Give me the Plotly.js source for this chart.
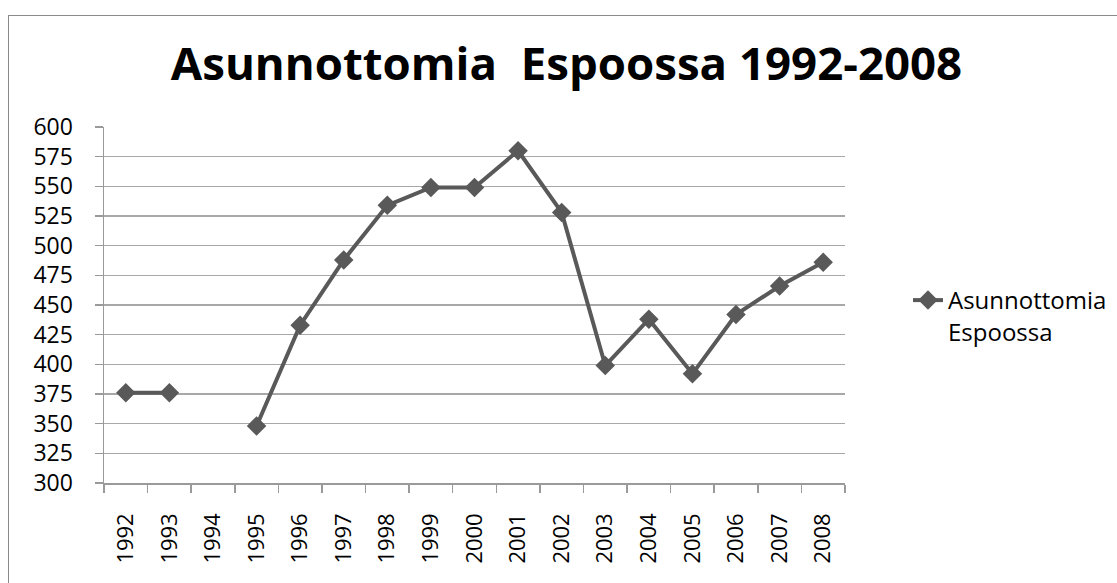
<!DOCTYPE html>
<html>
<head>
<meta charset="utf-8">
<script src="https://cdn.plot.ly/plotly-3.0.1.min.js"></script>
<style>
  html, body { margin: 0; padding: 0; background: #fff; overflow: hidden; }
  #wrap { position: relative; width: 1117px; height: 583px; }
  #frame { position: absolute; left: 8px; top: 15px; width: 1200px; height: 700px; border: 1.5px solid #8a8a8a; box-sizing: border-box; pointer-events: none; z-index: 5; }
  #chart { position: absolute; left: 0; top: 0; width: 1117px; height: 583px; }
</style>
</head>
<body>
<div id="wrap">
  <div id="chart"></div>
  <div id="frame"></div>
</div>
<script>
const years = ["1992","1993","1994","1995","1996","1997","1998","1999","2000","2001","2002","2003","2004","2005","2006","2007","2008"];
const homeless = [376, 376, null, 348, 433, 488, 534, 549, 549, 580, 528, 399, 438, 392, 442, 466, 486];
const seriesName = "Asunnottomia<br>Espoossa";
const titleText = "Asunnottomia\u00A0 Espoossa 1992-2008";

const font = "'Open Sans', 'Noto Sans', sans-serif";
const W = 1117, H = 583;
const L = 103.5, R = 845.5, T = 126.5, B = 483.5;

const trace = {
  x: years,
  y: homeless,
  type: "scatter",
  mode: "lines+markers",
  name: seriesName,
  connectgaps: false,
  line: { color: "#595959", width: 4 },
  marker: { symbol: "diamond", size: 15, color: "#595959" }
};

const layout = {
  width: W, height: H,
  margin: { l: L, r: W - R, t: T, b: H - B, pad: 0, autoexpand: false },
  paper_bgcolor: "#ffffff",
  plot_bgcolor: "#ffffff",
  font: { family: font, color: "#000000", size: 22 },
  title: {
    text: "<b>" + titleText + "</b>",
    font: { family: font, size: 45.6, color: "#000000" },
    x: 566.5 / W, xanchor: "center", xref: "container",
    y: 1 - 64 / H, yanchor: "middle", yref: "container"
  },
  showlegend: true,
  legend: {
    xref: "container", yref: "container",
    x: 908 / W, xanchor: "left",
    y: 1 - 278 / H, yanchor: "top",
    valign: "top",
    font: { family: font, size: 24, color: "#000000" },
    bgcolor: "rgba(0,0,0,0)",
    borderwidth: 0
  },
  xaxis: {
    type: "category",
    categoryorder: "array",
    categoryarray: years,
    range: [-0.5, years.length - 0.5],
    tickson: "boundaries",
    ticks: "outside", ticklen: 8, tickwidth: 1.5, tickcolor: "#9a9a9a",
    showline: true, linecolor: "#9a9a9a", linewidth: 1.5,
    showgrid: false,
    tickangle: -90,
    tickfont: { family: font, size: 22, color: "#000000" },
    ticklabelstandoff: 20,
    automargin: false,
    fixedrange: true
  },
  yaxis: {
    range: [300, 600],
    tick0: 300, dtick: 25,
    ticks: "outside", ticklen: 8, tickwidth: 1.5, tickcolor: "#9a9a9a",
    showline: true, linecolor: "#9a9a9a", linewidth: 1.5,
    showgrid: true, gridcolor: "#a8a8a8", gridwidth: 1.5,
    zeroline: false,
    tickfont: { family: font, size: 23, color: "#000000" },
    ticklabelstandoff: 17,
    automargin: false,
    fixedrange: true
  }
};

Plotly.newPlot("chart", [trace], layout, { staticPlot: true, displayModeBar: false });
</script>
</body>
</html>
